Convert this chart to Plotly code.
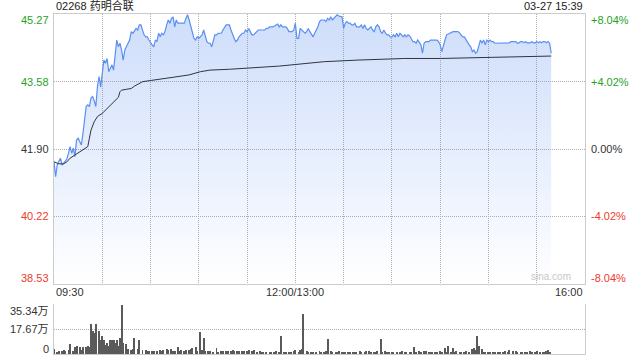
import plotly.graph_objects as go

# ---------------- data ----------------
prev_close = 41.90
y_ticks = [38.53, 40.22, 41.90, 43.58, 45.27]
pct_ticks = ["-8.04%", "-4.02%", "0.00%", "+4.02%", "+8.04%"]
vol_ticks = [0, 17.67, 35.34]
vol_tick_text = ["0", "17.67万", "35.34万"]

# per-minute price (minute 0 = 09:30, minute 150 = 13:00, minute 309 = 15:39)
price = [
    41.58, 41.21, 41.50, 41.60, 41.67, 41.50, 41.55, 41.58, 41.65, 41.79,
    41.96, 41.79, 41.92, 41.71, 42.12, 42.17, 42.08, 42.00, 42.29, 42.62,
    42.96, 43.00, 42.96, 43.17, 43.21, 43.10, 42.96, 43.46, 43.71, 43.45,
    43.87, 44.12, 44.04, 44.16, 43.83, 43.91, 44.00, 43.87, 44.33, 44.62,
    44.45, 44.54, 44.37, 44.12, 44.37, 44.45, 44.54, 44.62, 44.83, 44.79,
    44.85, 44.91, 44.87, 45.00, 45.00, 44.87, 44.75, 44.70, 44.70, 44.62,
    44.54, 44.50, 44.45, 44.62, 44.58, 44.79, 44.70, 44.79, 44.75, 44.83,
    45.00, 45.12, 45.04, 45.16, 45.20, 44.95, 45.12, 45.04, 45.04, 45.04,
    45.04, 45.04, 45.16, 45.25, 45.12, 44.95, 44.75, 44.66, 44.62, 44.70,
    44.66, 44.70, 44.75, 44.87, 44.70, 44.58, 44.54, 44.54, 44.45, 44.58,
    44.75, 44.75, 44.79, 44.79, 44.79, 44.87, 44.95, 45.00, 45.00, 45.00,
    # 11:20 - 12:00, then afternoon
    44.87, 44.75, 44.66, 44.58, 44.62, 44.70, 44.75, 44.79, 44.79, 44.87,
    44.83, 44.91, 44.83, 44.75, 44.75, 44.79, 44.83, 44.87, 44.87, 44.87,
    44.87, 44.87, 44.91, 44.91, 44.95, 44.95, 44.95, 44.97, 45.00, 45.02,
    44.95, 45.00, 44.95, 44.95, 44.95, 44.91, 44.83, 44.83, 44.83, 44.87,
    45.04, 44.66, 44.66, 44.91, 44.87, 44.83, 44.79, 44.83, 44.91, 44.83,
    44.75, 44.70, 44.79, 44.87, 44.95, 45.08, 45.12, 45.12, 45.12, 45.08,
    45.16, 45.12, 45.20, 45.12, 45.16, 45.22, 45.25, 45.22, 45.20, 45.20,
    44.91, 45.04, 45.08, 45.04, 45.04, 45.00, 45.00, 45.04, 44.95, 44.95,
    44.95, 45.00, 44.91, 45.00, 44.91, 44.87, 44.91, 44.95, 44.87, 44.83,
    44.95, 45.00, 44.95, 44.83, 44.79, 44.87, 44.79, 44.75, 44.75, 44.70,
    44.70, 44.75, 44.70, 44.79, 44.70, 44.79, 44.75, 44.70, 44.75,
    # 13:39 - 15:39
    44.70, 44.75, 44.72, 44.66, 44.58, 44.58, 44.54, 44.62, 44.54, 44.50,
    44.29, 44.54, 44.58, 44.58, 44.58, 44.62, 44.62, 44.62, 44.62, 44.62,
    44.58, 44.50, 44.33, 44.50, 44.62, 44.75, 44.77, 44.80, 44.83, 44.83,
    44.83, 44.83, 44.83, 44.80, 44.75, 44.70, 44.70, 44.62, 44.54, 44.50,
    44.45, 44.33, 44.37, 44.29, 44.33, 44.45, 44.62, 44.54, 44.62, 44.50,
    44.62, 44.58, 44.62, 44.58, 44.58, 44.54, 44.54, 44.54, 44.54, 44.54,
    44.55, 44.54, 44.54, 44.55, 44.55, 44.58, 44.58, 44.58, 44.58, 44.54,
    44.55, 44.58, 44.58, 44.55, 44.58, 44.55, 44.55, 44.55, 44.58, 44.55,
    44.55, 44.58, 44.55, 44.58, 44.55, 44.58, 44.58, 44.55, 44.58, 44.54,
    44.29,
]
minutes = list(range(len(price)))

avg_min = [0, 3, 6, 8, 10, 13, 16, 19, 21, 22, 23, 25, 27, 30, 32, 34, 36, 38, 40, 41,
           42, 45, 48, 50, 52, 55, 60, 66, 74, 84, 91, 97, 109, 140, 150, 154, 168,
           189, 218, 240, 277, 309]
avg_val = [41.58, 41.53, 41.53, 41.58, 41.67, 41.75, 41.83, 41.92, 41.96, 42.17,
           42.37, 42.58, 42.71, 42.79, 42.87, 42.96, 43.04, 43.11, 43.19, 43.33,
           43.37, 43.39, 43.41, 43.47, 43.52, 43.58, 43.61, 43.64, 43.69, 43.75,
           43.83, 43.87, 43.89, 43.97, 44.01, 44.04, 44.08, 44.12, 44.16, 44.16,
           44.20, 44.22]

vol_min = [0, 2, 3, 5, 6, 7, 9, 10, 12, 13, 14, 16, 17, 18, 20, 21, 22, 23, 24, 25,
           26, 28, 29, 30, 31, 32, 33, 34, 35, 36, 37, 38, 39, 40, 41, 42, 43, 45, 46, 48,
           49, 50, 52, 53, 55, 57, 58, 59, 61, 62, 64, 66, 67, 68, 70, 71, 73, 74, 75, 77,
           78, 79, 81, 82, 84, 85, 86, 88, 89, 91, 92, 93, 94, 96, 97, 99, 101, 102, 104, 105,
           107, 108, 110, 111, 112, 114, 115, 117, 118, 120, 121, 123, 124, 126, 128, 129, 130, 132, 134, 135,
           137, 138, 140, 141, 143, 144, 146, 147, 149, 150, 152, 153, 154, 155, 157, 158, 160, 161, 163, 165,
           166, 168, 169, 170, 172, 173, 175, 176, 177, 179, 180, 181, 183, 184, 186, 187, 188, 190, 191, 193,
           194, 196, 197, 199, 200, 201, 203, 204, 206, 207, 208, 210, 211, 213, 215, 216, 218, 219, 221, 222,
           224, 225, 227, 228, 230, 231, 233, 234, 235, 237, 238, 240, 241, 243, 244, 245, 247, 248, 249, 250,
           252, 253, 255, 256, 258, 260, 261, 262, 263, 264, 266, 267, 268, 270, 271, 273, 274, 276, 277, 279,
           280, 282, 283, 285, 287, 288, 290, 291, 293, 294, 296, 297, 299, 300, 302, 304, 305, 306, 307, 308]
vol_wan = [3.5, 1.2, 1.9, 1.9, 3.1, 2.4, 3.1, 7.3, 1.9, 4.9, 5.4, 4.9, 3.1, 4.9, 4.9, 5.4, 4.9, 21.4, 16.0, 14.8,
           21.4, 16.0, 10.1, 12.5, 10.1, 6.6, 7.8, 5.4, 10.1, 10.1, 10.1, 7.8, 10.1, 5.4, 11.3, 34.9, 7.8, 7.3, 3.5, 2.6,
           3.5, 11.3, 3.5, 10.1, 3.1, 3.1, 2.1, 2.1, 1.9, 2.4, 1.9, 3.1, 2.4, 3.1, 3.5, 2.6, 3.5, 1.9, 2.4, 4.9,
           2.4, 3.1, 1.9, 2.6, 3.1, 3.5, 4.2, 4.9, 1.9, 15.3, 2.6, 11.3, 1.9, 2.4, 1.9, 1.6, 4.2, 1.4, 1.9, 1.9,
           2.4, 1.9, 2.4, 3.1, 2.4, 1.9, 2.4, 1.9, 2.4, 1.9, 2.6, 1.9, 3.1, 1.6, 2.4, 1.6, 1.2, 1.4, 1.2, 1.4,
           1.6, 1.9, 1.4, 12.5, 1.6, 1.2, 1.4, 1.6, 1.9, 2.6, 1.6, 3.1, 3.5, 28.5, 1.9, 1.4, 1.6, 1.4, 1.6, 1.9,
           1.2, 1.6, 1.9, 10.6, 1.9, 1.4, 1.6, 1.6, 2.4, 1.6, 1.4, 1.6, 1.6, 1.4, 1.6, 1.4, 1.6, 1.9, 1.6, 1.6,
           1.9, 2.4, 1.4, 1.6, 1.6, 1.9, 10.6, 1.6, 1.9, 1.6, 1.4, 1.6, 1.4, 1.6, 1.6, 1.9, 1.4, 1.6, 1.6, 1.6,
           4.9, 1.6, 1.9, 1.6, 2.4, 2.1, 1.6, 1.6, 1.6, 1.4, 1.6, 1.9, 1.6, 4.2, 1.6, 5.9, 1.6, 4.2, 1.6, 1.9,
           1.4, 1.6, 1.6, 1.9, 1.6, 3.5, 4.2, 2.6, 13.0, 5.4, 3.5, 1.6, 1.6, 1.6, 1.6, 1.6, 1.6, 1.6, 1.6, 1.6,
           1.9, 1.6, 3.1, 2.1, 1.9, 1.6, 1.6, 1.4, 1.6, 1.6, 1.9, 1.6, 1.6, 2.1, 1.4, 1.6, 1.6, 2.1, 3.1, 1.6]

x_grid = [0, 30, 60, 90, 120, 150, 180, 210, 240, 270, 300, 330]
x_labels = [(0, "09:30", "left"), (150, "12:00/13:00", "center"), (330, "16:00", "right")]

# ---------------- styling ----------------
FONT = "Liberation Sans, Arial, Noto Sans CJK SC, sans-serif"
GREEN = "#1fa31f"
RED = "#f0392b"
DARK = "#333333"
GRID = "#b0b0b0"
DASH = "1px,1px"
BORDER = "#cccccc"

fig = go.Figure()

fig.add_trace(go.Scatter(
    x=minutes, y=price, mode="lines",
    line=dict(color="#5b8ff0", width=1.2),
    fill="tozeroy",
    fillgradient=dict(type="vertical", start=y_ticks[0], stop=y_ticks[-1],
                      colorscale=[[0, "rgba(91,143,240,0.0)"],
                                  [0.25, "rgba(91,143,240,0.08)"],
                                  [1, "rgba(91,143,240,0.30)"]]),
    hoverinfo="skip", showlegend=False, xaxis="x", yaxis="y"))

fig.add_trace(go.Scatter(
    x=avg_min, y=avg_val, mode="lines",
    line=dict(color="#2d3541", width=1), hoverinfo="skip", showlegend=False,
    xaxis="x", yaxis="y"))

fig.add_trace(go.Bar(
    x=vol_min, y=vol_wan, width=0.6,
    marker=dict(color="#5a5a5a", line=dict(width=0)),
    hoverinfo="skip", showlegend=False, xaxis="x2", yaxis="y2"))

L, R, T, B = 54, 55, 14, 6
plot_h = 360 - T - B
main_bottom = (354 - 284) / plot_h
vol_top = (354 - 304) / plot_h

fig.update_layout(
    width=640, height=360,
    margin=dict(l=L, r=R, t=T, b=B),
    paper_bgcolor="white", plot_bgcolor="white",
    bargap=0,
    xaxis=dict(domain=[0, 1], range=[0, 330], tickvals=x_grid, showticklabels=False,
               showgrid=True, gridcolor=GRID, griddash=DASH, gridwidth=1,
               showline=True, linecolor=BORDER, linewidth=1, mirror=True,
               zeroline=False, anchor="y", ticks=""),
    yaxis=dict(domain=[main_bottom, 1], range=[y_ticks[0], y_ticks[-1]],
               tickvals=y_ticks[1:-1], showticklabels=False,
               showgrid=True, gridcolor=GRID, griddash=DASH, gridwidth=1,
               showline=True, linecolor=BORDER, linewidth=1, mirror=True,
               zeroline=False, anchor="x", ticks=""),
    xaxis2=dict(domain=[0, 1], range=[0, 330], showticklabels=False, showgrid=False,
                showline=True, linecolor=BORDER, linewidth=1, zeroline=False,
                anchor="y2", ticks=""),
    yaxis2=dict(domain=[0, vol_top], range=[0, 35.34], tickvals=[17.67, 35.34],
                showticklabels=False, showgrid=True, gridcolor=GRID, griddash=DASH,
                showline=True, linecolor=BORDER, linewidth=1, mirror=True,
                zeroline=False, anchor="x2", ticks=""),
)

ann = []
# title and time
ann.append(dict(text="02268 药明合联", xref="paper", yref="paper", x=0, y=1,
                xanchor="left", yanchor="bottom", showarrow=False,
                font=dict(family=FONT, size=11, color="#222")))
ann.append(dict(text="03-27 15:39", xref="paper", yref="paper", x=1, y=1,
                xanchor="right", yanchor="bottom", showarrow=False,
                font=dict(family=FONT, size=11, color="#222")))
# price and percent labels
for i, v in enumerate(y_ticks):
    col = GREEN if v > prev_close + 0.001 else (RED if v < prev_close - 0.001 else DARK)
    shift = -6 if i == len(y_ticks) - 1 else (6 if i == 0 else 0)
    ann.append(dict(text=f"{v:.2f}", xref="paper", yref="y", x=0, y=v, xanchor="right",
                    yanchor="middle", xshift=-3, yshift=shift, showarrow=False,
                    font=dict(family=FONT, size=11, color=col)))
    ann.append(dict(text=pct_ticks[i], xref="paper", yref="y", x=1, y=v, xanchor="left",
                    yanchor="middle", xshift=4, yshift=shift, showarrow=False,
                    font=dict(family=FONT, size=11, color=col)))
# volume labels
for v, t in zip(vol_ticks, vol_tick_text):
    shift = 5 if v == 0 else (-7 if v == vol_ticks[-1] else 0)
    ann.append(dict(text=t, xref="paper", yref="y2", x=0, y=v, xanchor="right",
                    yanchor="middle", xshift=-3, yshift=shift, showarrow=False,
                    font=dict(family=FONT, size=11, color=DARK)))
# time labels
for m, t, a in x_labels:
    ann.append(dict(text=t, xref="x", yref="y domain", x=m, y=0, xanchor=a,
                    yanchor="top", yshift=0, showarrow=False,
                    font=dict(family=FONT, size=11, color=DARK)))
# watermark
ann.append(dict(text="sina.com", xref="paper", yref="y", x=1, y=y_ticks[0],
                xanchor="right", yanchor="bottom", xshift=-12, yshift=0, showarrow=False,
                font=dict(family=FONT, size=10, color="#c8c8c8")))
fig.update_layout(annotations=ann)

fig.write_html("out.html")
